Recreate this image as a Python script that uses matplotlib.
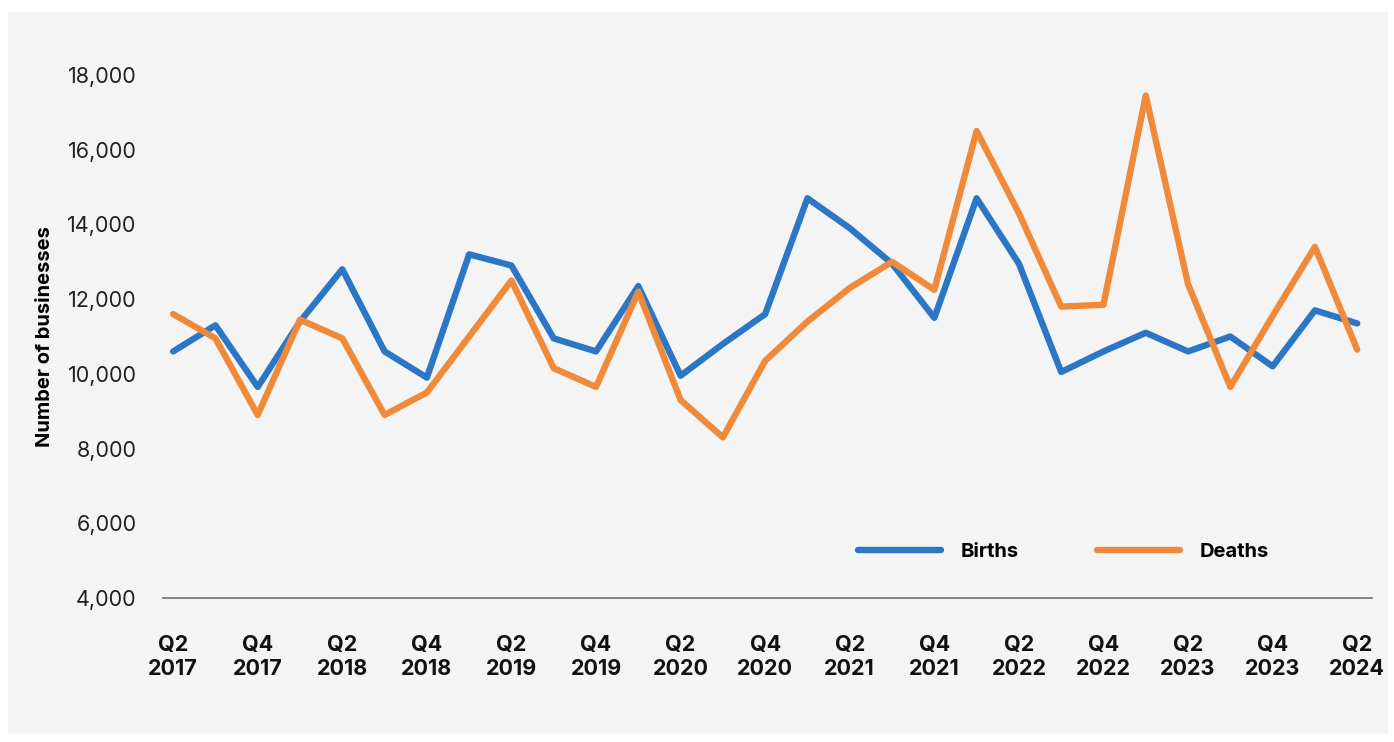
import matplotlib
matplotlib.use("Agg")
import matplotlib.pyplot as plt
from matplotlib.patches import Rectangle
from matplotlib.ticker import FuncFormatter

plt.rcParams['font.family'] = ['Inter', 'DejaVu Sans']

# quarterly values, Q2 2017 .. Q2 2024
quarters = ["Q2 2017", "Q3 2017", "Q4 2017", "Q1 2018", "Q2 2018", "Q3 2018", "Q4 2018",
            "Q1 2019", "Q2 2019", "Q3 2019", "Q4 2019", "Q1 2020", "Q2 2020", "Q3 2020",
            "Q4 2020", "Q1 2021", "Q2 2021", "Q3 2021", "Q4 2021", "Q1 2022", "Q2 2022",
            "Q3 2022", "Q4 2022", "Q1 2023", "Q2 2023", "Q3 2023", "Q4 2023", "Q1 2024",
            "Q2 2024"]
births = [10600, 11300, 9650, 11400, 12800, 10600, 9900, 13200, 12900, 10950,
          10600, 12350, 9950, 10800, 11600, 14700, 13900, 12950, 11500, 14700,
          12950, 10050, 10600, 11100, 10600, 11000, 10200, 11700, 11350]
deaths = [11600, 10950, 8900, 11450, 10950, 8900, 9500, 11000, 12500, 10150,
          9650, 12200, 9300, 8300, 10350, 11400, 12300, 13000, 12250, 16500,
          14300, 11800, 11850, 17450, 12400, 9650, 11550, 13400, 10650]
tick_labels = ["Q2\n2017", "Q4\n2017", "Q2\n2018", "Q4\n2018", "Q2\n2019", "Q4\n2019",
               "Q2\n2020", "Q4\n2020", "Q2\n2021", "Q4\n2021", "Q2\n2022", "Q4\n2022",
               "Q2\n2023", "Q4\n2023", "Q2\n2024"]

blue = "#2b77c5"
orange = "#ef8a3b"
bg = "#f4f4f4"

fig = plt.figure(figsize=(13.94, 7.42), dpi=100, facecolor="white")
fig.patches.append(Rectangle((8 / 1394, 8 / 742), 1380 / 1394, 722 / 742,
                             transform=fig.transFigure, facecolor=bg,
                             edgecolor="none", zorder=-1))
ax = fig.add_axes([163 / 1394, 1 - 598 / 742, (1372 - 163) / 1394, (598 - 75) / 742])
ax.set_facecolor(bg)

x = list(range(len(quarters)))
ax.plot(x, births, color=blue, lw=4.6, solid_capstyle="round", solid_joinstyle="round", label="Births")
ax.plot(x, deaths, color=orange, lw=4.6, solid_capstyle="round", solid_joinstyle="round", label="Deaths")

ax.set_ylim(4000, 18000)
ax.set_xlim(-0.24, 28.35)
ax.set_yticks(range(4000, 18001, 2000))
ax.yaxis.set_major_formatter(FuncFormatter(lambda v, p: f"{int(v):,}"))
ax.set_xticks(range(0, 29, 2))
ax.set_xticklabels(tick_labels, fontweight="bold", fontsize=15.5, linespacing=1.2)
ax.tick_params(axis="y", length=0, pad=19, labelsize=15.5, labelcolor="#222222")
ax.tick_params(axis="x", length=0, pad=27, labelcolor="#111111")

for s in ["top", "right", "left"]:
    ax.spines[s].set_visible(False)
ax.spines["bottom"].set_color("#7a7a7a")
ax.spines["bottom"].set_linewidth(1.3)

ax.set_ylabel("Number of businesses", fontsize=14.5, fontweight="bold")
ax.yaxis.set_label_coords(-0.09, 0.5)

leg = ax.legend(loc="center", bbox_to_anchor=(0.745, 0.088), ncol=2, frameon=False,
                handlelength=4.1, handletextpad=1.0, columnspacing=3.9,
                prop={"weight": "bold", "size": 14.5})

fig.savefig("out.png", dpi=100, facecolor=fig.get_facecolor())
